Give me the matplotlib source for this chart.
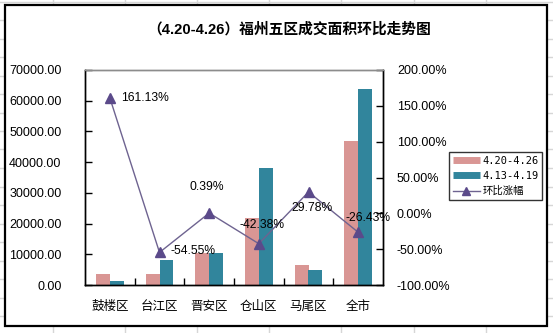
import matplotlib
matplotlib.use("Agg")
import matplotlib.pyplot as plt
from matplotlib.lines import Line2D
from matplotlib.patches import Rectangle
from matplotlib.ticker import MultipleLocator, FuncFormatter, FixedLocator

# ---- data ----
districts = ["鼓楼区", "台江区", "晋安区", "仓山区", "马尾区", "全市"]
area_this_week = [3580, 3640, 10450, 21950, 6490, 46950]      # 4.20-4.26
area_last_week = [1370, 8010, 10410, 38090, 5000, 63820]      # 4.13-4.19
change_pct = [161.13, -54.55, 0.39, -42.38, 29.78, -26.43]    # 环比涨幅 (%)
series_names = ["4.20-4.26", "4.13-4.19", "环比涨幅"]
title_text = "（4.20-4.26）福州五区成交面积环比走势图"

W, H = 553, 333
fig = plt.figure(figsize=(W / 100, H / 100), dpi=100)
fig.patch.set_facecolor("white")

LATIN = ["Liberation Sans", "Noto Sans CJK SC"]
CJK = ["Noto Sans CJK SC", "DejaVu Sans"]

def fx(px):
    return px / W

def fy(py):
    return 1 - py / H

# spreadsheet cell grid behind the chart object
grid_c = "#D6D6D6"
for x in [53, 125, 197, 269, 341, 414, 486]:
    fig.add_artist(Line2D([fx(x), fx(x)], [0, 1], color=grid_c, lw=1, zorder=0))
y = 1.5
while y < H:
    fig.add_artist(Line2D([0, 1], [fy(y), fy(y)], color=grid_c, lw=1, zorder=0))
    y += 18.5

# chart frame
fig.add_artist(Rectangle((fx(5), fy(326)), fx(547) - fx(5), fy(5) - fy(326),
                         facecolor="white", edgecolor="black", lw=1.6, zorder=1))

# plot area
ax = fig.add_axes([fx(85), fy(285), fx(383) - fx(85), fy(70) - fy(285)], zorder=2)
ax.set_facecolor("none")
ax2 = ax.twinx()

pink = "#D99694"
teal = "#31859C"
line_c = "#6E6390"
mark_c = "#5B4A8A"

n = len(districts)
xs = list(range(n))
bw = 0.28
ax.bar([i - bw / 2 for i in xs], area_this_week, width=bw, color=pink, zorder=2)
ax.bar([i + bw / 2 for i in xs], area_last_week, width=bw, color=teal, zorder=2)

ax.set_xlim(-0.5, n - 0.5)
ax.set_ylim(0, 70000)
ax.yaxis.set_major_locator(MultipleLocator(10000))
ax.yaxis.set_major_formatter(FuncFormatter(lambda v, p: f"{v:.2f}"))
ax.tick_params(axis="y", direction="in", length=5, width=1, pad=17,
               labelsize=9, colors="black")
for lab in ax.get_yticklabels():
    lab.set_family(LATIN)

ax.xaxis.set_major_locator(FixedLocator(xs))
ax.set_xticklabels(districts, family=CJK, fontsize=9)
ax.xaxis.set_minor_locator(FixedLocator([i + 0.5 for i in xs[:-1]]))
ax.tick_params(axis="x", which="major", length=0, pad=11)
ax.tick_params(axis="x", which="minor", direction="in", length=5, width=1)

# change-ratio line on the secondary axis
ratio = [v / 100 for v in change_pct]
ax2.plot(xs, ratio, color=line_c, lw=1, marker="^", markersize=6.5,
         markerfacecolor=mark_c, markeredgecolor=mark_c, zorder=3)
ax2.set_ylim(-1.0, 2.0)
ax2.yaxis.set_major_locator(MultipleLocator(0.5))
ax2.yaxis.set_major_formatter(FuncFormatter(lambda v, p: f"{v * 100:.2f}%"))
ax2.tick_params(axis="y", direction="in", length=5, width=1, pad=10,
                labelsize=9, colors="black")
for lab in ax2.get_yticklabels():
    lab.set_family(LATIN)

label_offsets = [(11, 0, "left"), (11, 1, "left"), (-2, 26, "center"),
                 (3, 19, "center"), (4, -16, "center"), (10, 14, "center")]
for i, (v, (dx, dy, ha)) in enumerate(zip(change_pct, label_offsets)):
    ax2.annotate(f"{v:.2f}%", (xs[i], v / 100), xytext=(dx, dy),
                 textcoords="offset pixels", ha=ha, va="center",
                 fontsize=8.7, family=LATIN, color="black", zorder=4)

for a in (ax, ax2):
    for side in ("left", "right", "bottom"):
        a.spines[side].set_color("black")
        a.spines[side].set_linewidth(1)
    a.spines["top"].set_color("#8C8C8C")
    a.spines["top"].set_linewidth(1)

# legend
handles = [
    Line2D([], [], color=pink, lw=5, solid_capstyle="butt"),
    Line2D([], [], color=teal, lw=5, solid_capstyle="butt"),
    Line2D([], [], color=line_c, lw=1, marker="^", markersize=6,
           markerfacecolor=mark_c, markeredgecolor=mark_c),
]
leg = fig.legend(handles, series_names, loc="upper left",
                 bbox_to_anchor=(fx(449), fy(152)), borderaxespad=0,
                 frameon=True, fancybox=False, edgecolor="black",
                 handlelength=2.6, handletextpad=0.25, borderpad=0.35,
                 labelspacing=0.5,
                 prop={"family": ["DejaVu Sans Mono", "Noto Sans CJK SC"],
                       "size": 7.5})
leg.get_frame().set_linewidth(1)
leg.set_zorder(5)

fig.text(fx(289.5), fy(29), title_text, ha="center", va="center",
         fontsize=10.6, fontweight="bold", family=LATIN, zorder=5)

fig.savefig("out.png", dpi=100)
